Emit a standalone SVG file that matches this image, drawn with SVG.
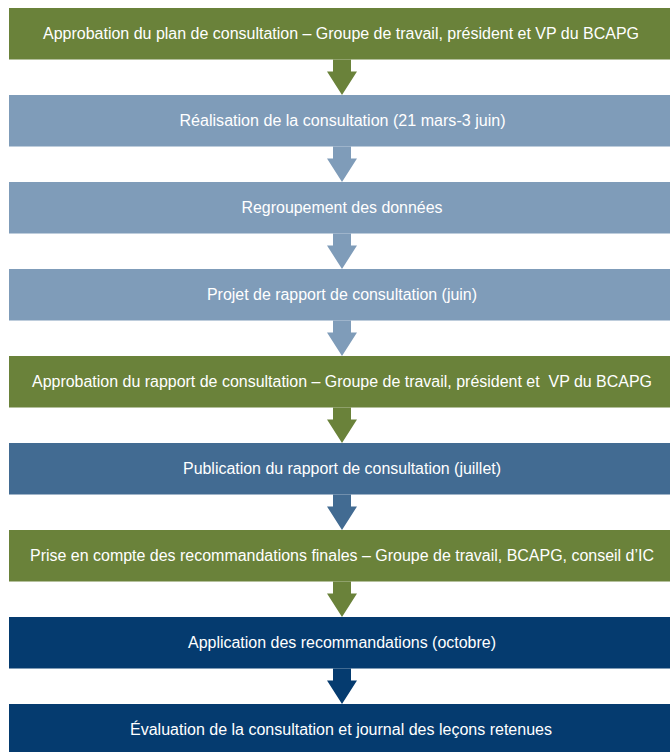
<svg xmlns="http://www.w3.org/2000/svg" width="670" height="752" viewBox="0 0 670 752">
<defs>
<style>
.box{stroke:none}
.g{fill:#6A823A}
.lb{fill:#7F9CB9}
.mb{fill:#426B92}
.nv{fill:#053B6F}
.t{font-family:"Liberation Sans",Arial,sans-serif;font-size:16px;fill:#ffffff;text-anchor:middle}
</style>
<path id="arr" d="M-9,0 L-9,12 L-15,12 L0,35.5 L15,12 L9,12 L9,0 Z"/>
</defs>
<rect width="670" height="752" fill="#ffffff"/>
<g id="connectors">
<use href="#arr" x="342" y="59.5" class="g"/>
<use href="#arr" x="342" y="146.5" class="lb"/>
<use href="#arr" x="342" y="233.5" class="lb"/>
<use href="#arr" x="342" y="320.5" class="lb"/>
<use href="#arr" x="342" y="407.5" class="g"/>
<use href="#arr" x="342" y="494.5" class="mb"/>
<use href="#arr" x="342" y="581.5" class="g"/>
<use href="#arr" x="342" y="668.5" class="nv"/>
</g>
<g id="n1"><rect class="box g" x="9" y="8" width="670" height="51.5"/><text class="t" x="341" y="38.5" textLength="596" lengthAdjust="spacingAndGlyphs">Approbation du plan de consultation – Groupe de travail, président et VP du BCAPG</text></g>
<g id="n2"><rect class="box lb" x="9" y="95" width="670" height="51.5"/><text class="t" x="342.5" y="125.5" textLength="326" lengthAdjust="spacingAndGlyphs">Réalisation de la consultation (21 mars-3 juin)</text></g>
<g id="n3"><rect class="box lb" x="9" y="182" width="670" height="51.5"/><text class="t" x="342" y="212.5" textLength="201" lengthAdjust="spacingAndGlyphs">Regroupement des données</text></g>
<g id="n4"><rect class="box lb" x="9" y="269" width="670" height="51.5"/><text class="t" x="342" y="299.5" textLength="270" lengthAdjust="spacingAndGlyphs">Projet de rapport de consultation (juin)</text></g>
<g id="n5"><rect class="box g" x="9" y="356" width="670" height="51.5"/><text class="t" x="342" y="386.5" textLength="620" lengthAdjust="spacingAndGlyphs" xml:space="preserve">Approbation du rapport de consultation – Groupe de travail, président et  VP du BCAPG</text></g>
<g id="n6"><rect class="box mb" x="9" y="443" width="670" height="51.5"/><text class="t" x="342" y="473.5" textLength="318" lengthAdjust="spacingAndGlyphs">Publication du rapport de consultation (juillet)</text></g>
<g id="n7"><rect class="box g" x="9" y="530" width="670" height="51.5"/><text class="t" x="342" y="560.5" textLength="624" lengthAdjust="spacingAndGlyphs">Prise en compte des recommandations finales – Groupe de travail, BCAPG, conseil d’IC</text></g>
<g id="n8"><rect class="box nv" x="9" y="617" width="670" height="51.5"/><text class="t" x="342" y="647.5" textLength="308" lengthAdjust="spacingAndGlyphs">Application des recommandations (octobre)</text></g>
<g id="n9"><rect class="box nv" x="9" y="704" width="670" height="51.5"/><text class="t" x="341" y="734.5" textLength="422" lengthAdjust="spacingAndGlyphs">Évaluation de la consultation et journal des leçons retenues</text></g>
</svg>
